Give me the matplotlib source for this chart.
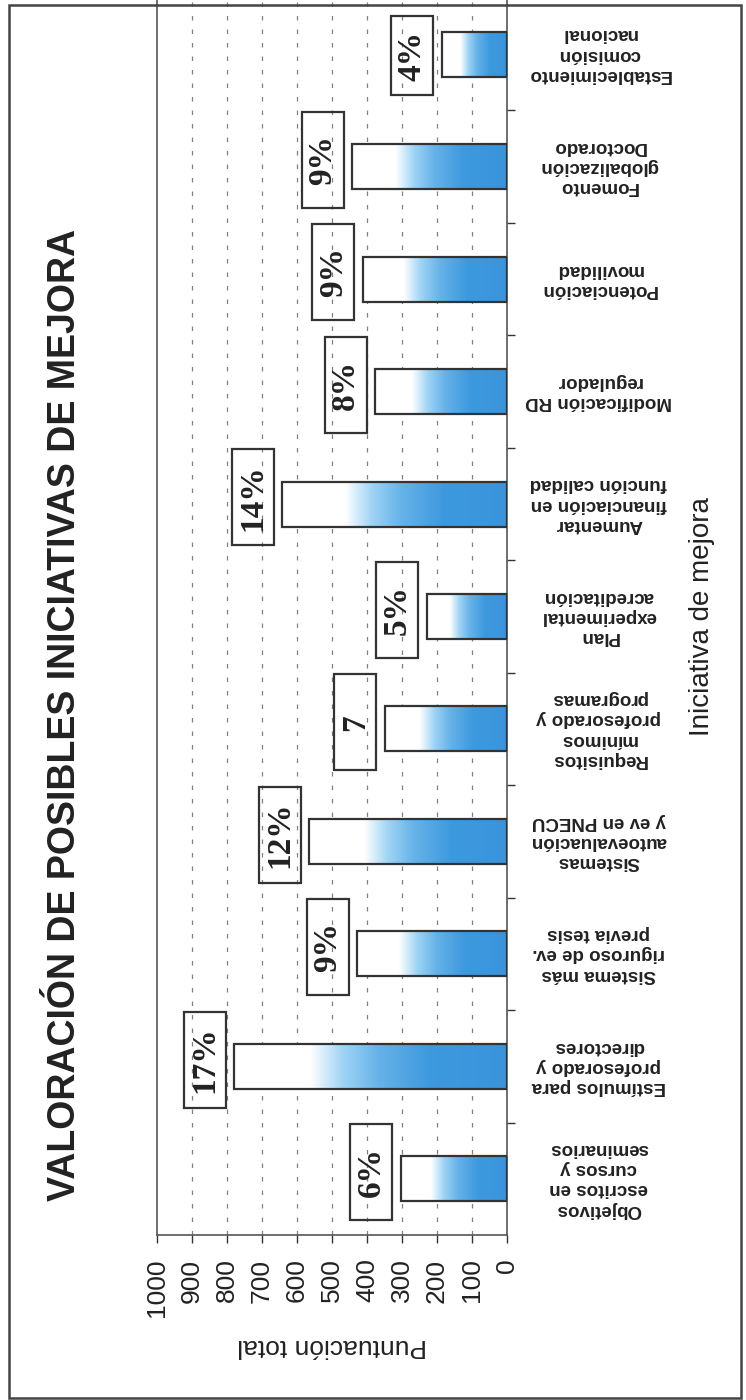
import numpy as np
import matplotlib.pyplot as plt
from matplotlib.patches import Rectangle

plt.rcParams['font.family'] = ['Liberation Sans', 'DejaVu Sans']

# datos
categorias = ['Objetivos\nescritos en\ncursos y\nseminarios',
              'Estímulos para\nprofesorado y\ndirectores',
              'Sistema más\nriguroso de ev.\nprevia tesis',
              'Sistemas\nautoevaluación\ny ev en PNECU',
              'Requisitos\nmínimos\nprofesorado y\nprogramas',
              'Plan\nexperimental\nacreditación',
              'Aumentar\nfinanciación en\nfunción calidad',
              'Modificación RD\nregulador',
              'Potenciación\nmovilidad',
              'Fomento\nglobalización\nDoctorado',
              'Establecimiento\ncomisión\nnacional']
puntuacion = [304, 779, 428, 565, 349, 229, 642, 377, 412, 442, 187]
porcentajes = ['6%', '17%', '9%', '12%', '7', '5%', '14%', '8%', '9%', '9%', '4%']
ticks_valor = list(range(0, 1001, 100))

titulo = 'VALORACIÓN DE POSIBLES INICIATIVAS DE MEJORA'
gris = '#333333'

fig = plt.figure(figsize=(7.46, 14), dpi=100)
ax = fig.add_axes([157/746, 1 - 1235/1400, 350/746, 1237/1400])

pos = np.arange(len(categorias))
alto = 0.4

# degradado azul (base) -> blanco (extremo) dentro de cada barra
t = np.linspace(0, 1, 300)
paradas = [0.0, 0.28, 0.47, 0.60, 0.72, 1.0]
colores = np.array([[0.23, 0.58, 0.86],
                    [0.24, 0.60, 0.87],
                    [0.40, 0.70, 0.91],
                    [0.62, 0.83, 0.96],
                    [1.0, 1.0, 1.0],
                    [1.0, 1.0, 1.0]])
grad = np.stack([np.interp(t, paradas, colores[:, k]) for k in range(3)], axis=1)
grad = grad.reshape(1, -1, 3)
for p, v in zip(pos, puntuacion):
    ax.imshow(grad, extent=(0, v, p - alto/2, p + alto/2), aspect='auto',
              interpolation='bilinear', zorder=2)

ax.barh(pos, puntuacion, height=alto, facecolor='none', edgecolor=gris,
        linewidth=1.6, zorder=3)

# cajas con porcentaje (la de arriba queda recortada por el borde)
techo = len(categorias) - 0.66
for p, v, txt in zip(pos, puntuacion, porcentajes):
    y0 = p + 0.06 - 0.427
    y1 = min(p + 0.06 + 0.427, techo)
    ax.add_patch(Rectangle((v + 24, y0), 120, y1 - y0,
                           facecolor='none', edgecolor=gris, linewidth=1.6, zorder=4))
    ax.text(v + 84, (y0 + y1) / 2, txt, rotation=90, ha='center', va='center',
            fontsize=24, fontweight='bold', family=['Liberation Serif'],
            color='#222222', zorder=5)

ax.set_xlim(1000, 0)
ax.set_ylim(-0.5, len(categorias) - 0.5)
ax.set_xticks(ticks_valor)
ax.set_xticklabels([str(x) for x in ticks_valor])
ax.tick_params(axis='x', direction='out', length=6, width=1, color=gris,
               labelsize=19, labelrotation=90, pad=11, labelcolor='#222222')

ax.set_yticks(pos)
ax.set_yticks(pos[:-1] + 0.5, minor=True)
ax.yaxis.tick_right()
ax.set_yticklabels(categorias)
ax.tick_params(axis='y', which='major', length=0, pad=66, labelsize=13.5,
               labelcolor='#222222')
ax.tick_params(axis='y', which='minor', direction='out', length=6, width=1, color=gris)
for lbl in ax.get_yticklabels():
    lbl.set_rotation(180)
    lbl.set_ha('center')
    lbl.set_va('center')
    lbl.set_fontweight('bold')
    lbl.set_linespacing(1.25)

for x in ticks_valor[1:-1]:
    ax.axvline(x, color='#808080', linewidth=0.9, dashes=(3.6, 7.2), zorder=1)

for s in ax.spines.values():
    s.set_color('#555555')
    s.set_linewidth(1.2)

ax.set_xlabel('Puntuación total', rotation=180, fontsize=19, color='#222222',
              ha='center', va='center')
ax.xaxis.set_label_coords(0.5, -0.09)
ax.yaxis.set_label_position('right')
ax.set_ylabel('Iniciativa de mejora', rotation=90, fontsize=20, color='#222222',
              ha='center', va='center')
ax.yaxis.set_label_coords(1.557, 0.5)

fig.text(65/746, 1 - 715/1400, titulo, rotation=90, ha='center', va='center',
         fontsize=27, fontweight='bold', color='#222222')

# marco exterior
fig.patches.append(Rectangle((9/746, 2/1400), 732/746, 1393/1400, transform=fig.transFigure,
                             facecolor='none', edgecolor='#444444', linewidth=1.8))

fig.savefig('out.png', dpi=100)
